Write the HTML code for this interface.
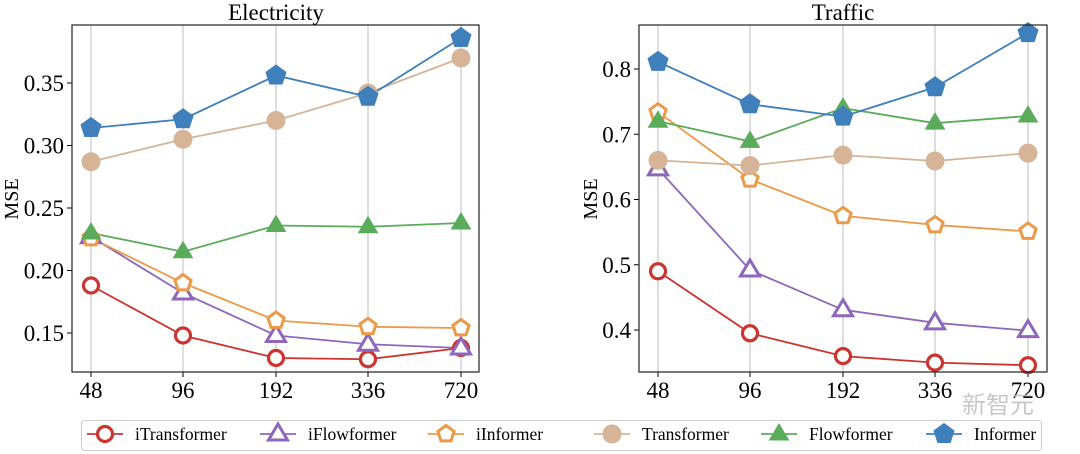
<!DOCTYPE html>
<html><head><meta charset="utf-8"><style>
html,body{margin:0;padding:0;background:#fff;}
svg{display:block;font-family:"Liberation Serif",serif;}
</style></head><body>
<svg id="s" width="1080" height="454" viewBox="0 0 1080 454" xmlns="http://www.w3.org/2000/svg">
<text x="276" y="20" font-size="23" text-anchor="middle">Electricity</text>
<text x="843" y="20" font-size="23" text-anchor="middle">Traffic</text>
<text transform="translate(18,199) rotate(-90)" font-size="20" text-anchor="middle">MSE</text>
<text transform="translate(597,199) rotate(-90)" font-size="20" text-anchor="middle">MSE</text>
<g id="g"></g>
<text x="962" y="413" font-size="24" fill="#bbb" font-family="'Noto Sans CJK SC',sans-serif" opacity="0.8">新智元</text>
<rect x="81.5" y="420.5" width="960" height="30" rx="3" fill="#fff" stroke="#ccc"/>
<g id="leg" font-size="17.5"></g>
</svg>
<script>
const NS="http://www.w3.org/2000/svg";
const g=document.getElementById('g'),leg=document.getElementById('leg');
function el(p,t,a){const e=document.createElementNS(NS,t);for(const k in a)e.setAttribute(k,a[k]);p.appendChild(e);return e;}
const C={it:'#cc3430',ifl:'#8e67bb',iin:'#eb9a4a',tr:'#d5b498',fl:'#5aab5a',inf:'#3f7fbb'};
function marker(p,type,x,y,c){
 if(type==='it')el(p,'circle',{cx:x,cy:y,r:7.5,fill:'#fff',stroke:c,'stroke-width':3.2});
 else if(type==='tr')el(p,'circle',{cx:x,cy:y,r:9.5,fill:c});
 else if(type==='ifl'||type==='fl'){const r=10;const pts=[[x,y-r],[x+r*0.95,y+r*0.6],[x-r*0.95,y+r*0.6]];
  el(p,'polygon',{points:pts.map(a=>a.join(',')).join(' '),fill:type==='fl'?c:'#fff',stroke:c,'stroke-width':type==='fl'?1:3,'stroke-linejoin':'miter'});}
 else {const r=type==='inf'?10.5:8.5;let pts=[];for(let i=0;i<5;i++){const a=-Math.PI/2+i*2*Math.PI/5;pts.push([x+r*Math.cos(a),y+r*Math.sin(a)]);}
  el(p,'polygon',{points:pts.map(a=>a.join(',')).join(' '),fill:type==='inf'?c:'#fff',stroke:c,'stroke-width':type==='inf'?1:3});}
}
const order=['it','ifl','iin','tr','fl','inf'];
function chart(x0,x1,xs,yticks,fy,data){
 for(const x of xs)el(g,'line',{x1:x,x2:x,y1:25,y2:372,stroke:'#c8c8c8','stroke-width':1.2});
 for(const [v,l] of yticks){const y=fy(v);el(g,'line',{x1:x0-5,x2:x0,y1:y,y2:y,stroke:'#000'});const t=el(g,'text',{x:x0-8,y:y+8,'font-size':23,'text-anchor':'end'});t.textContent=l;}
 const lbl=['48','96','192','336','720'];
 xs.forEach((x,i)=>{el(g,'line',{x1:x,x2:x,y1:372,y2:377,stroke:'#000'});const t=el(g,'text',{x:x,y:398,'font-size':23,'text-anchor':'middle'});t.textContent=lbl[i];});
 for(const k of order){const c=C[k];const pts=data[k].map((v,i)=>[xs[i],fy(v)]);
  el(g,'polyline',{points:pts.map(a=>a.join(',')).join(' '),fill:'none',stroke:c,'stroke-width':1.8});}
 for(const k of order){const c=C[k];data[k].forEach((v,i)=>marker(g,k,xs[i],fy(v),c));}
 el(g,'rect',{x:x0,y:25,width:x1-x0,height:347,fill:'none',stroke:'#222','stroke-width':1.2});
}
chart(72,479,[91,183,276,368,461],[[0.35,'0.35'],[0.30,'0.30'],[0.25,'0.25'],[0.20,'0.20'],[0.15,'0.15']],v=>333-(v-0.15)*1250,{
 it:[.188,.148,.130,.129,.138],ifl:[.227,.182,.148,.141,.138],iin:[.226,.190,.160,.155,.154],
 tr:[.287,.305,.320,.342,.370],fl:[.230,.215,.236,.235,.238],inf:[.314,.321,.356,.339,.386]});
chart(639,1047,[658,750,843,935,1028],[[0.8,'0.8'],[0.7,'0.7'],[0.6,'0.6'],[0.5,'0.5'],[0.4,'0.4']],v=>330-(v-0.4)*652.5,{
 it:[.490,.395,.360,.350,.346],ifl:[.647,.492,.431,.411,.399],iin:[.734,.631,.575,.561,.551],
 tr:[.660,.652,.668,.659,.671],fl:[.720,.689,.740,.717,.728],inf:[.811,.746,.727,.772,.855]});
const L=[['it','iTransformer',87],['ifl','iFlowformer',260],['iin','iInformer',428],['tr','Transformer',594],['fl','Flowformer',761],['inf','Informer',926]];
for(const [k,n,x] of L){el(leg,'line',{x1:x,x2:x+36,y1:434,y2:434,stroke:C[k],'stroke-width':1.8});marker(leg,k,x+18,434,C[k]);
 const t=el(leg,'text',{x:x+48,y:440});t.textContent=n;}
</script>
</body></html>
